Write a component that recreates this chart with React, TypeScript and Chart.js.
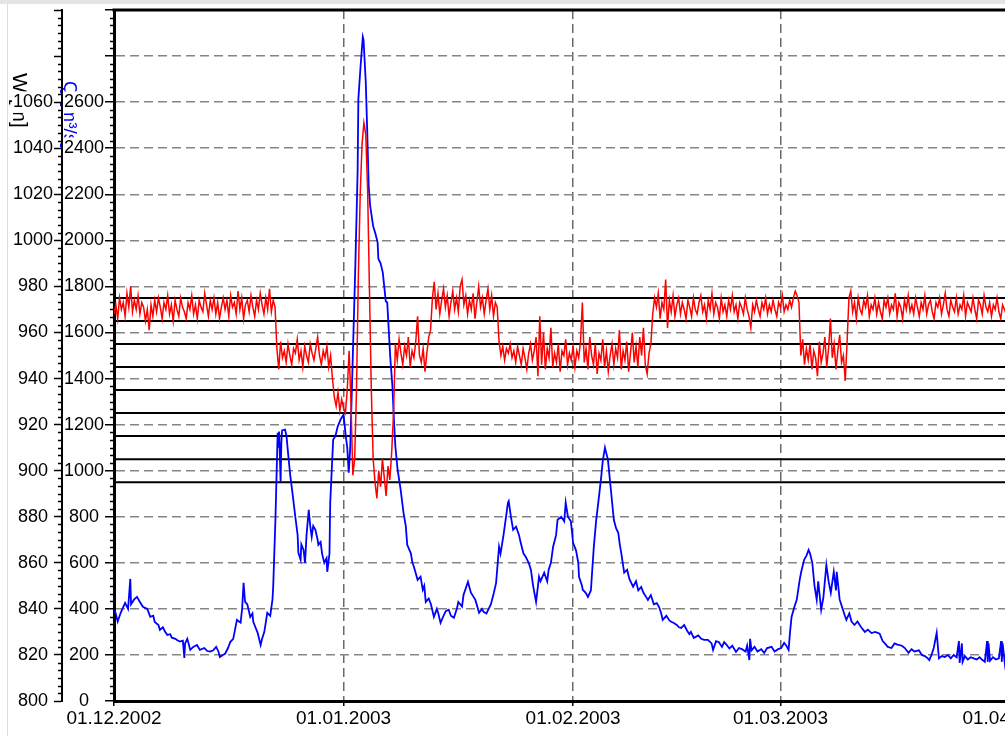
import React, { useEffect, useRef } from 'react';
import { Chart, registerables } from 'chart.js';

Chart.register(...registerables);

// ---------- data ----------
// x axis: days since 01.12.2002
const dateTickDays = [0, 31, 62, 90, 121];
const dateTickLabels = ['01.12.2002', '01.01.2003', '01.02.2003', '01.03.2003', '01.04.2003'];

// Water level W [m] (red), regular sampling every 6 hours from 01.12.2002
const levelStartDay = 0;
const levelStepDays = 0.25;
const levelW = [
  968, 972, 966, 975, 970, 973, 967, 977, 971, 980, 969, 974, 970, 976, 968, 973, 971, 965, 970, 961,
  972, 967, 974, 969, 975, 971, 966, 973, 970, 976, 968, 972, 965, 974, 970, 967, 975, 971, 969, 966,
  973, 970, 976, 968, 972, 966, 974, 971, 969, 977, 972, 967, 974, 970, 975, 968, 973, 966, 971, 975,
  970, 974, 967, 976, 971, 973, 968, 978, 970, 975, 966, 972, 974, 969, 976, 971, 967, 974, 970, 977,
  972, 968, 975, 970, 979, 969, 974, 971,
  953, 944, 956, 949, 952, 947, 955, 950, 946, 953, 951, 957, 948, 952, 945, 954, 950, 947, 955, 951,
  948, 953, 958, 950, 946, 952, 949, 954, 945, 950,
  940, 932, 928, 934, 926, 931, 927,
  925, 935, 952, 930, 898, 905, 935, 985, 1020, 1042, 1051, 1046, 1022, 978, 935, 905, 895, 888, 900, 893,
  905, 897, 889, 902, 896, 908, 925,
  955, 948, 957, 951, 946, 954, 950, 958, 945, 952, 949, 956, 967, 950, 947, 953, 943, 951, 958, 961,
  975, 982, 970, 977, 968, 974, 979, 971, 976, 967, 973, 978, 970, 975, 969, 980, 983, 972, 976, 968,
  974, 970, 977, 966, 973, 980, 971, 975, 968, 974, 979, 970, 976, 967, 973, 971,
  956, 950, 954, 948, 953, 951, 955, 949, 952, 947, 954, 950, 946, 953, 949, 944, 951, 955, 948, 952,
  958, 941, 967, 946, 960, 944, 953, 949, 962, 945, 951, 947, 955, 943, 952, 950, 957, 946, 951, 948,
  954, 945, 952, 949, 956, 973, 947, 953, 944, 958, 950, 946, 955, 942, 951, 948, 957, 945, 952, 943,
  950, 955, 946, 953, 949, 961, 944, 952, 948, 956, 943, 951, 960, 947, 954, 945, 958, 950, 962, 946,
  942, 951, 955,
  968, 975, 971, 977, 966, 973, 970, 983, 962, 974, 969, 976, 967, 972, 975, 968, 973, 970, 966, 974,
  971, 967, 975, 970, 968, 973, 976, 969, 972, 966, 974, 970, 977, 968, 973, 971, 966, 975, 969, 972,
  967, 974, 970, 976, 969, 972, 966, 973, 971, 968, 975, 970, 967, 962, 972, 969, 974, 970, 967, 973,
  970, 975, 968, 972, 969, 974, 970, 967, 973, 971, 976, 969, 972, 970, 974, 971, 975, 978, 976, 973,
  950, 957, 946, 953, 948, 955, 944, 952, 949, 941, 956, 947, 951, 958, 945, 953, 966, 949, 955, 944,
  952, 959, 947, 950, 939, 956,
  975, 978, 969, 973, 966, 975, 970, 968, 974, 971, 976, 967, 972, 970, 975, 968, 973, 969, 966, 974,
  971, 975, 968, 972, 970, 977, 967, 973, 971, 966, 974, 970, 976, 969, 972, 968, 975, 971, 967, 973,
  970, 976, 968, 972, 974, 969, 966, 973, 971, 975, 968, 972, 977, 970, 967, 974, 971, 969, 975, 968,
  972, 970, 976, 967, 973, 971, 969, 975, 970, 966, 974, 972, 968, 976, 971, 969, 973, 967, 972, 970,
  975, 969, 966, 972, 970, 968, 971, 969,
];

// Discharge Q [m3/s] (blue): [day, value]
const flowSamples = [
  [0.1, 396], [0.5, 345], [0.9, 383], [1.5, 426], [1.9, 400], [2.2, 530], [2.3, 420], [2.7, 440], [3.1, 452], [3.5, 430],
  [3.9, 409], [4.5, 400], [4.9, 365], [5.3, 370], [5.5, 343], [6.0, 330], [6.2, 309], [6.6, 320], [6.9, 300], [7.2, 287],
  [7.6, 290], [7.8, 275], [8.3, 270], [8.5, 265], [8.9, 258], [9.3, 262], [9.5, 187], [9.6, 250], [9.9, 270], [10.3, 222],
  [10.7, 235], [11.2, 243], [11.6, 222], [12.2, 230], [12.6, 217], [13.0, 215], [13.4, 220], [13.8, 235], [14.1, 215], [14.3, 191],
  [14.7, 200], [15.0, 205], [15.4, 230], [15.7, 256], [16.1, 270], [16.6, 352], [17.1, 340], [17.3, 400], [17.5, 513], [17.7, 430],
  [18.0, 420], [18.4, 365], [18.7, 380], [18.8, 345], [19.1, 320], [19.4, 296], [19.8, 243], [20.0, 270], [20.3, 300], [20.7, 383],
  [21.1, 370], [21.4, 440], [21.5, 496], [21.8, 787], [22.1, 1165], [22.2, 1100], [22.3, 1170], [22.5, 952], [22.6, 1120], [22.7, 1175],
  [23.1, 1178], [23.3, 1150], [23.5, 1078], [23.8, 980], [24.1, 904], [24.5, 796], [24.8, 720], [24.9, 643], [25.2, 613], [25.3, 680],
  [25.6, 656], [25.8, 600], [26.0, 720], [26.3, 830], [26.5, 760], [26.7, 713], [26.9, 760], [27.2, 743], [27.5, 700], [27.6, 678],
  [27.9, 690], [28.1, 640], [28.4, 600], [28.7, 620], [28.8, 561], [29.1, 640], [29.2, 861], [29.6, 1135], [29.9, 1150], [30.2, 1191],
  [30.6, 1222], [31.0, 1243], [31.3, 1150], [31.5, 1100], [31.7, 991], [31.9, 1100], [32.2, 1440], [32.6, 1900], [32.9, 2300], [33.0, 2613],
  [33.3, 2757], [33.6, 2883], [33.7, 2870], [34.0, 2687], [34.2, 2470], [34.4, 2235], [34.6, 2148], [35.0, 2061], [35.3, 2030], [35.6, 1991],
  [35.7, 1920], [36.0, 1900], [36.3, 1860], [36.7, 1735], [36.9, 1730], [37.1, 1613], [37.3, 1496], [37.6, 1365], [37.8, 1222], [38.0, 1104],
  [38.3, 1004], [38.7, 920], [39.1, 817], [39.4, 760], [39.6, 678], [40.1, 640], [40.3, 600], [40.5, 583], [40.7, 560], [41.0, 526],
  [41.4, 540], [41.7, 483], [41.9, 500], [42.1, 430], [42.5, 445], [42.8, 420], [43.2, 365], [43.6, 400], [43.8, 380], [44.1, 339],
  [44.5, 370], [44.8, 390], [45.2, 396], [45.5, 370], [45.9, 361], [46.3, 400], [46.5, 430], [47.0, 410], [47.2, 460], [47.8, 517],
  [48.2, 470], [48.6, 450], [48.8, 439], [49.3, 383], [49.7, 400], [49.9, 387], [50.3, 380], [50.9, 420], [51.3, 470], [51.6, 513],
  [52.0, 670], [52.2, 640], [52.6, 720], [52.9, 790], [53.2, 861], [53.3, 868], [53.6, 800], [53.9, 743], [54.3, 757], [54.7, 720],
  [54.9, 690], [55.3, 640], [55.6, 626], [56.0, 600], [56.3, 570], [56.6, 500], [57.0, 430], [57.4, 540], [57.6, 520], [58.1, 557],
  [58.5, 520], [58.7, 570], [59.0, 600], [59.3, 670], [59.7, 720], [59.9, 787], [60.4, 800], [60.8, 780], [61.0, 861], [61.3, 800],
  [61.7, 780], [62.0, 687], [62.4, 653], [62.7, 600], [62.8, 539], [63.2, 500], [63.3, 483], [63.7, 470], [64.0, 452], [64.4, 480],
  [64.8, 670], [65.1, 780], [65.4, 861], [65.8, 974], [66.0, 1040], [66.3, 1100], [66.7, 1048], [67.1, 917], [67.5, 787], [67.8, 750],
  [68.1, 730], [68.3, 680], [68.5, 643], [68.7, 600], [68.9, 557], [69.3, 570], [69.6, 530], [70.1, 496], [70.5, 520], [70.8, 480],
  [71.2, 495], [71.5, 470], [71.9, 450], [72.1, 439], [72.5, 460], [72.9, 420], [73.3, 425], [73.6, 409], [73.9, 380], [74.1, 352],
  [74.6, 370], [75.0, 350], [75.2, 345], [75.6, 339], [76.0, 330], [76.3, 320], [76.6, 317], [77.0, 330], [77.4, 305], [77.7, 290],
  [77.9, 300], [78.3, 274], [78.9, 285], [79.3, 270], [79.7, 265], [80.2, 265], [80.7, 250], [80.9, 222], [81.3, 260], [81.7, 255],
  [82.1, 235], [82.4, 256], [82.7, 245], [83.1, 228], [83.5, 240], [84.0, 213], [84.4, 230], [84.8, 225], [85.3, 215], [85.5, 240],
  [85.8, 178], [85.9, 270], [86.1, 220], [86.5, 235], [86.9, 215], [87.4, 225], [87.8, 209], [88.2, 230], [88.8, 235], [89.2, 215],
  [89.7, 225], [90.1, 230], [90.5, 252], [90.8, 240], [91.1, 222], [91.3, 300], [91.5, 365], [91.9, 410], [92.2, 439], [92.6, 526],
  [92.8, 560], [93.2, 613], [93.5, 630], [93.8, 656], [94.0, 640], [94.3, 600], [94.6, 500], [94.9, 439], [95.1, 520], [95.5, 396],
  [95.8, 450], [96.2, 591], [96.5, 520], [96.8, 470], [97.2, 560], [97.5, 480], [97.6, 561], [98.0, 440], [98.2, 420], [98.6, 380],
  [98.9, 352], [99.3, 380], [99.6, 345], [100.0, 330], [100.4, 345], [100.9, 320], [101.4, 300], [101.8, 310], [102.3, 295], [102.8, 300],
  [103.4, 292], [103.8, 260], [104.1, 250], [104.5, 235], [105.0, 230], [105.4, 250], [105.8, 245], [106.4, 240], [106.8, 230], [107.3, 209],
  [107.7, 225], [108.1, 215], [108.7, 220], [109.1, 200], [109.5, 195], [109.9, 185], [110.1, 178], [110.4, 200], [110.7, 230], [111.1, 296],
  [111.4, 185], [111.8, 195], [112.2, 191], [112.6, 200], [113.0, 185], [113.4, 200], [113.8, 190], [114.1, 260], [114.2, 165], [114.5, 250],
  [114.6, 170], [114.9, 195], [115.3, 180], [115.7, 190], [116.1, 185], [116.5, 180], [116.9, 190], [117.2, 180], [117.6, 170], [117.9, 260],
  [118.0, 170], [118.1, 250], [118.3, 175], [118.7, 190], [119.1, 180], [119.5, 185], [119.8, 260], [119.9, 170], [120.0, 250], [120.3, 165],
  [120.6, 240], [120.9, 170],
];

// Reference water levels (black horizontal lines)
const refLevels = [895, 905, 915, 925, 935, 945, 955, 965, 975];

// axis ranges
const dayMin = 0;
const dayMax = 121;
const levelMin = 800;
const levelMax = 1100;
const levelStep = 20;
const levelLabelMax = 1060;
const flowMin = 0;
const flowMax = 3000;
const flowStep = 200;
const flowLabelMax = 2600;

function hasFont(name: string): boolean {
  const ctx = document.createElement('canvas').getContext('2d');
  if (!ctx) return false;
  const sample = '01.01.2003 1060 mmWW';
  ctx.font = '40px monospace';
  const a = ctx.measureText(sample).width;
  ctx.font = `40px '${name}', monospace`;
  const b = ctx.measureText(sample).width;
  return Math.abs(a - b) > 0.5;
}

function drawMinorTicks(ctx: CanvasRenderingContext2D, scale: any, len: number) {
  const ticks = scale.ticks;
  ctx.beginPath();
  for (let i = 0; i < ticks.length - 1; i++) {
    const a = ticks[i].value;
    const b = ticks[i + 1].value;
    for (let k = 1; k < 6; k++) {
      const y = Math.round(scale.getPixelForValue(a + ((b - a) * k) / 6)) + 0.5;
      ctx.moveTo(scale.right - len, y);
      ctx.lineTo(scale.right, y);
    }
  }
  ctx.stroke();
}

const framePlugin = {
  id: 'framePlugin',
  beforeDraw(chart: any) {
    const { ctx, width, height } = chart;
    const yW = chart.scales.yW;
    const yQ = chart.scales.yQ;
    ctx.save();
    ctx.fillStyle = '#ffffff';
    ctx.fillRect(0, 0, width, height);
    ctx.restore();

    ctx.save();
    ctx.fillStyle = '#000000';
    ctx.font = "21px 'Liberation Sans', Arial, sans-serif";
    ctx.textAlign = 'left';
    ctx.textBaseline = 'alphabetic';
    ctx.translate(yW.left + 13, chart.chartArea.top + 63);
    ctx.rotate(Math.PI / 2);
    ctx.fillText('W [m]', 0, 0);
    ctx.restore();

    ctx.save();
    ctx.fillStyle = '#0000ff';
    ctx.font = "19px 'Liberation Sans', Arial, sans-serif";
    ctx.textAlign = 'left';
    ctx.textBaseline = 'alphabetic';
    ctx.translate(yQ.left + 2, chart.chartArea.top + 71);
    ctx.rotate(Math.PI / 2);
    ctx.fillText('Q [m³/s]', 0, 0);
    ctx.restore();
  },
  afterDraw(chart: any) {
    const { ctx, chartArea, width, height } = chart;
    ctx.save();
    ctx.strokeStyle = '#000000';
    ctx.lineWidth = 1.5;
    drawMinorTicks(ctx, chart.scales.yW, 4);
    drawMinorTicks(ctx, chart.scales.yQ, 4);
    ctx.lineWidth = 3;
    ctx.beginPath();
    ctx.moveTo(chartArea.left - 1.5, chartArea.top);
    ctx.lineTo(chartArea.right, chartArea.top);
    ctx.stroke();
    // window frame: light grey band on top, thin grey line on the left
    ctx.fillStyle = '#e4e4e4';
    ctx.fillRect(0, 0, width, 4);
    ctx.fillStyle = '#dedede';
    ctx.fillRect(7, 4, 1, height - 4);
    ctx.restore();
  },
};

export default function App() {
  const ref = useRef<HTMLCanvasElement>(null);

  useEffect(() => {
    const canvas = ref.current;
    if (!canvas) return;
    const narrow = hasFont('Liberation Sans Narrow');
    const family = narrow
      ? "'Liberation Sans Narrow', 'Liberation Sans', Arial, sans-serif"
      : "'Liberation Sans', Arial, sans-serif";
    const ySize = narrow ? 20 : 18;
    const xSize = narrow ? 21 : 19;

    const levelData = levelW.map((w, i) => ({ x: levelStartDay + i * levelStepDays, y: w }));
    const flowData = flowSamples.map(([d, q]) => ({ x: d, y: q }));
    const refSets = refLevels.map((lv) => ({
      label: `ref ${lv}`,
      data: [
        { x: dayMin, y: lv },
        { x: dayMax, y: lv },
      ],
      yAxisID: 'yW',
      borderColor: '#000000',
      borderWidth: 2,
      pointRadius: 0,
    }));

    const hideEdge = (lo: number, hi: number, col: string) => (c: any) =>
      c.tick && (c.tick.value === lo || c.tick.value === hi) ? 'rgba(0,0,0,0)' : col;
    const backdropFor = (labelMax: number) => (c: any) =>
      c.tick && c.tick.value <= labelMax ? '#ffffff' : 'rgba(0,0,0,0)';

    const chart = new Chart(canvas, {
      type: 'line',
      data: {
        datasets: [
          {
            label: 'W',
            data: levelData,
            yAxisID: 'yW',
            borderColor: '#ff0000',
            borderWidth: 1.5,
            pointRadius: 0,
          },
          {
            label: 'Q',
            data: flowData,
            yAxisID: 'yQ',
            borderColor: '#0000ff',
            borderWidth: 1.8,
            pointRadius: 0,
          },
          ...refSets,
        ],
      },
      options: {
        animation: false,
        responsive: false,
        devicePixelRatio: 1,
        layout: { padding: { left: 0, top: 10, right: 50, bottom: 0 } },
        plugins: {
          legend: { display: false },
          tooltip: { enabled: false },
          title: { display: false },
        },
        elements: { point: { radius: 0 }, line: { tension: 0 } },
        scales: {
          x: {
            type: 'linear',
            position: 'bottom',
            min: dayMin,
            max: dayMax,
            afterBuildTicks: (s: any) => {
              s.ticks = dateTickDays.map((v) => ({ value: v }));
            },
            afterFit: (s: any) => {
              s.height = 35;
              s.paddingLeft = 0;
              s.paddingRight = 0;
            },
            ticks: {
              autoSkip: false,
              maxRotation: 0,
              minRotation: 0,
              padding: 1,
              color: '#000000',
              font: { family, size: xSize },
              callback: (_v: any, i: number) => dateTickLabels[i] ?? '',
            },
            grid: {
              color: hideEdge(dayMin, dayMax, '#6a6a6a'),
              lineWidth: 1.5,
              tickColor: '#000000',
              tickLength: 5,
              tickWidth: 1.5,
            },
            border: { display: true, color: '#000000', width: 3, dash: [9, 5] },
          },
          yW: {
            type: 'linear',
            position: 'left',
            weight: 1,
            min: levelMin,
            max: levelMax,
            afterFit: (s: any) => {
              s.width = 62;
              s.paddingTop = 0;
              s.paddingBottom = 0;
            },
            ticks: {
              stepSize: levelStep,
              padding: 1,
              crossAlign: 'center',
              color: '#000000',
              font: { family, size: ySize },
              showLabelBackdrop: true,
              backdropColor: backdropFor(levelLabelMax),
              backdropPadding: { top: 0, bottom: 0, left: 1, right: 1 },
              callback: (v: any) => (v <= levelLabelMax ? String(v) : ''),
            },
            grid: {
              drawOnChartArea: false,
              drawTicks: true,
              tickLength: 8,
              tickColor: '#000000',
              tickWidth: 1.5,
              color: '#000000',
            },
            border: { display: true, color: '#000000', width: 2 },
          },
          yQ: {
            type: 'linear',
            position: 'left',
            weight: 0,
            min: flowMin,
            max: flowMax,
            afterFit: (s: any) => {
              s.width = 52;
              s.paddingTop = 0;
              s.paddingBottom = 0;
            },
            ticks: {
              stepSize: flowStep,
              padding: 1,
              crossAlign: 'center',
              color: '#000000',
              font: { family, size: ySize },
              showLabelBackdrop: true,
              backdropColor: backdropFor(flowLabelMax),
              backdropPadding: { top: 0, bottom: 0, left: 1, right: 1 },
              callback: (v: any) => (v <= flowLabelMax ? String(v) : ''),
            },
            grid: {
              drawOnChartArea: true,
              color: hideEdge(flowMin, flowMax, '#858585'),
              lineWidth: 1.5,
              tickColor: '#000000',
              tickLength: 9,
              tickWidth: 1.5,
            },
            border: { display: true, color: '#000000', width: 3, dash: [9, 5] },
          },
        },
      },
      plugins: [framePlugin],
    } as any);

    return () => chart.destroy();
  }, []);

  return (
    <div
      style={{
        position: 'fixed',
        left: 0,
        top: 0,
        width: 1005,
        height: 736,
        overflow: 'hidden',
        background: '#ffffff',
      }}
    >
      <canvas ref={ref} width={1060} height={736} style={{ display: 'block', width: 1060, height: 736 }} />
    </div>
  );
}
